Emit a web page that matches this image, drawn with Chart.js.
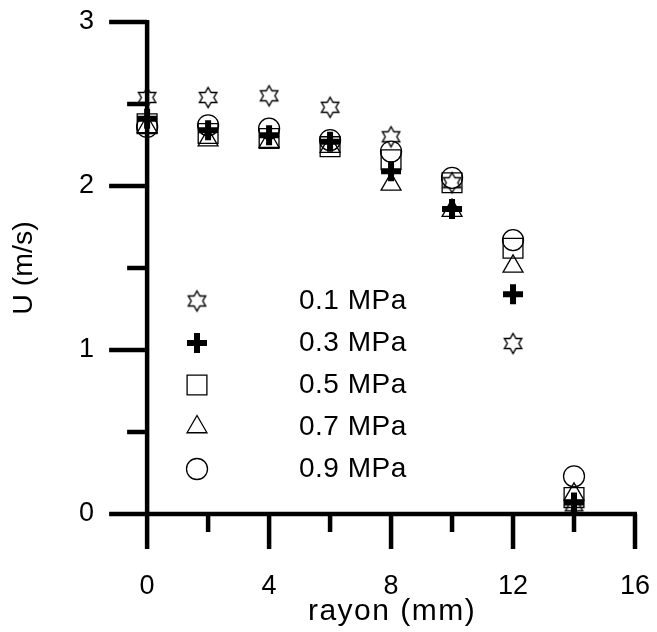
<!DOCTYPE html>
<html>
<head>
<meta charset="utf-8">
<title>U vs rayon</title>
<script src="https://cdn.jsdelivr.net/npm/chart.js@4/dist/chart.umd.min.js"></script>
<style>
  html, body { margin: 0; padding: 0; background: #fff; }
</style>
</head>
<body>
<canvas id="chart" width="657" height="632"></canvas>
<script>
'use strict';

// rayon (mm)
const RAYON = [0, 2, 4, 6, 8, 10, 12, 14]

// U (m/s) pour chaque pression
const U_01 = [2.54, 2.54, 2.55, 2.48, 2.30, 2.02, 1.04, 0.05]
const U_03 = [2.41, 2.34, 2.31, 2.27, 2.09, 1.86, 1.34, 0.07]
const U_05 = [2.38, 2.32, 2.29, 2.24, 2.16, 2.02, 1.62, 0.10]
const U_07 = [2.36, 2.28, 2.27, 2.24, 2.01, 1.85, 1.51, 0.12]
const U_09 = [2.36, 2.37, 2.35, 2.28, 2.21, 2.05, 1.67, 0.23]

const LABELS = ['0.1 MPa', '0.3 MPa', '0.5 MPa', '0.7 MPa', '0.9 MPa']
const X_TICKS = [0, 4, 8, 12, 16]
const Y_TICKS = [0, 1, 2, 3]
const X_MINOR = [2, 6, 10, 14]
const Y_MINOR = [0.5, 1.5, 2.5]
const X_TITRE = 'rayon (mm)'
const Y_TITRE = 'U (m/s)'

const FAMILLE = "'Liberation Sans', Arial, sans-serif"
const FONT = { family: FAMILLE, size: 27 }
const NOIR = '#000'
const INVISIBLE = 'rgba(0,0,0,0)'

// etoile a six branches (contour)
function etoile(r, lw) {
    const size = Math.ceil(2 * r + 2 * lw + 2)
    const c = document.createElement('canvas')
    c.width = size
    c.height = size
    const g = c.getContext('2d')
    const cx = size / 2, cy = size / 2
    g.beginPath()
    for (let i = 0; i < 12; i++) {
        const rr = i % 2 == 0 ? r : r / Math.sqrt(3)
        const a = i * Math.PI / 6
        const px = cx + rr * Math.sin(a)
        const py = cy - rr * Math.cos(a)
        if (i == 0) g.moveTo(px, py)
        else g.lineTo(px, py)
    }
    g.closePath()
    g.lineWidth = lw
    g.strokeStyle = NOIR
    g.stroke()
    return c
}

const STAR = etoile(10, 1.4)

const series = [
    { data: U_01, style: STAR, radius: 10, bw: 1.4 },
    { data: U_03, style: 'cross', radius: 10, bw: 6 },
    { data: U_05, style: 'rect', radius: 14, bw: 1.3 },
    { data: U_07, style: 'triangle', radius: 11.5, bw: 1.3 },
    { data: U_09, style: 'circle', radius: 10.5, bw: 1.3 },
]

const datasets = series.map(function (s, i) {
    return {
        label: LABELS[i],
        data: RAYON.map(function (x, j) { return { x: x, y: s.data[j] } }),
        showLine: false,
        pointStyle: s.style,
        pointRadius: s.radius,
        pointBorderWidth: s.bw,
        pointBorderColor: NOIR,
        pointBackgroundColor: INVISIBLE,
    }
})

// axes en croix avec graduations vers l'exterieur
const axesPlugin = {
    id: 'axesCroix',
    beforeDatasetsDraw(chart) {
        const ctx = chart.ctx
        const xs = chart.scales.x
        const ys = chart.scales.y
        const x0 = xs.getPixelForValue(0)
        const y0 = ys.getPixelForValue(0)
        ctx.save()
        ctx.strokeStyle = NOIR
        ctx.lineWidth = 4.5
        ctx.lineCap = 'butt'
        ctx.beginPath()
        // axe x
        ctx.moveTo(x0 - 38, y0)
        ctx.lineTo(xs.getPixelForValue(16) + 2, y0)
        // axe y
        ctx.moveTo(x0, ys.getPixelForValue(3) - 2)
        ctx.lineTo(x0, y0)
        X_TICKS.forEach(function (v) {
            const p = xs.getPixelForValue(v)
            ctx.moveTo(p, y0)
            ctx.lineTo(p, y0 + 35)
        })
        X_MINOR.forEach(function (v) {
            const p = xs.getPixelForValue(v)
            ctx.moveTo(p, y0)
            ctx.lineTo(p, y0 + 18)
        })
        Y_TICKS.forEach(function (v) {
            const p = ys.getPixelForValue(v)
            ctx.moveTo(x0, p)
            ctx.lineTo(x0 - 38, p)
        })
        Y_MINOR.forEach(function (v) {
            const p = ys.getPixelForValue(v)
            ctx.moveTo(x0, p)
            ctx.lineTo(x0 - 20, p)
        })
        ctx.stroke()

        // titre de l'axe x, centre sur 0..16
        ctx.fillStyle = NOIR
        ctx.font = '30px ' + FAMILLE
        ctx.letterSpacing = '1.5px'
        ctx.textAlign = 'center'
        ctx.textBaseline = 'middle'
        const cx = (xs.getPixelForValue(0) + xs.getPixelForValue(16)) / 2
        ctx.fillText(X_TITRE, cx + 1, 612)
        ctx.restore()
    }
}

// legende dans le graphe
const legendePlugin = {
    id: 'legendePression',
    afterDatasetsDraw(chart) {
        const ctx = chart.ctx
        ctx.save()
        chart.data.datasets.forEach(function (ds, i) {
            const y = 301 + i * 42
            ctx.strokeStyle = NOIR
            ctx.fillStyle = INVISIBLE
            ctx.lineWidth = ds.pointBorderWidth
            Chart.helpers.drawPoint(ctx, {
                pointStyle: ds.pointStyle,
                radius: ds.pointRadius,
                borderWidth: ds.pointBorderWidth,
                rotation: 0
            }, 197, y)
            ctx.fillStyle = NOIR
            ctx.font = '28px ' + FAMILLE
            ctx.letterSpacing = '0.5px'
            ctx.textBaseline = 'middle'
            ctx.textAlign = 'left'
            ctx.fillText(ds.label, 299, y)
            ctx.letterSpacing = '0px'
        })
        ctx.restore()
    }
}

const ctx = document.getElementById('chart').getContext('2d')
const chart = new Chart(ctx, {
    type: 'scatter',
    data: { datasets: datasets },
    options: {
        responsive: false,
        animation: false,
        events: [],
        layout: { padding: { top: 22, right: 22, left: 0, bottom: 0 } },
        plugins: {
            legend: { display: false },
            tooltip: { enabled: false }
        },
        scales: {
            x: {
                type: 'linear',
                min: -1.25,
                max: 16,
                grid: { color: INVISIBLE, drawOnChartArea: false, drawTicks: true, tickLength: 56 },
                border: { display: false },
                ticks: { padding: 0, font: FONT, color: NOIR, maxRotation: 0, autoSkip: false },
                afterBuildTicks: function (s) { s.ticks = X_TICKS.map(function (v) { return { value: v } }) },
                afterFit: function (s) { s.height = 118 }
            },
            y: {
                type: 'linear',
                min: 0,
                max: 3,
                grid: { color: INVISIBLE, drawOnChartArea: false, drawTicks: true, tickLength: 15 },
                border: { display: false },
                ticks: { padding: 0, font: FONT, color: NOIR, stepSize: 1 },
                afterBuildTicks: function (s) { s.ticks = Y_TICKS.map(function (v) { return { value: v } }) },
                afterFit: function (s) { s.width = 109 },
                title: { display: true, text: Y_TITRE, font: { family: FAMILLE, size: 28.5 }, color: NOIR, padding: { top: 7, bottom: 0 } }
            }
        }
    },
    plugins: [axesPlugin, legendePlugin]
});
</script>
</body>
</html>
